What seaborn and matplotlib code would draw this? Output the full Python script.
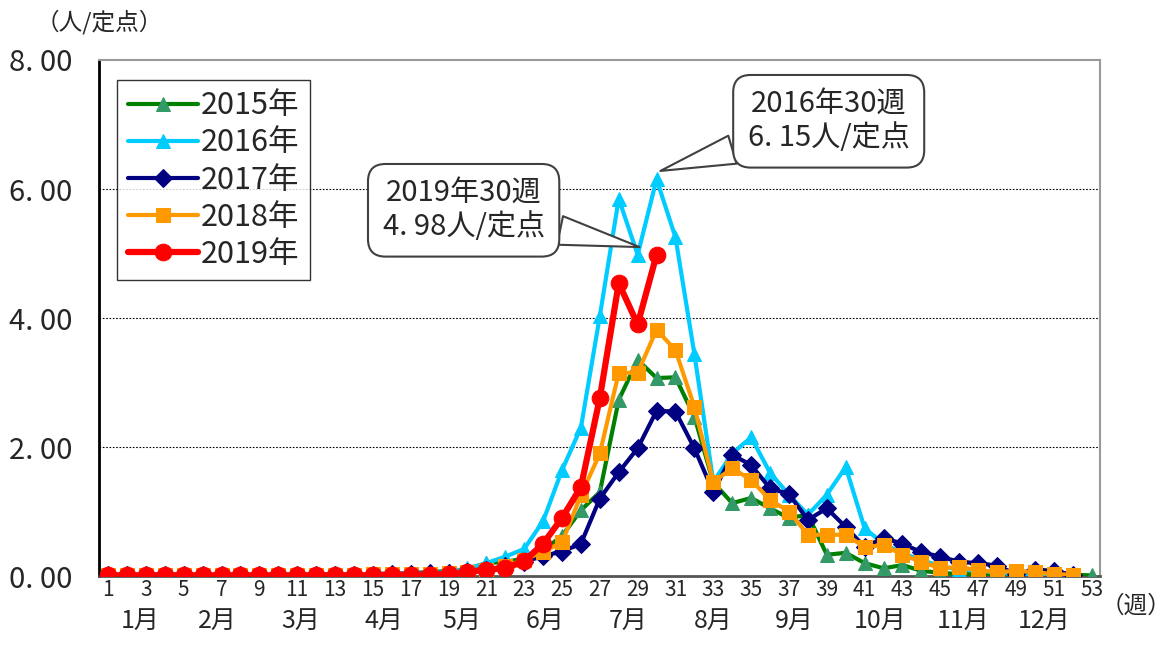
import numpy as np
import pandas as pd
import seaborn as sns
import matplotlib.pyplot as plt
from matplotlib.transforms import blended_transform_factory

# data
y2015 = [0.02, 0.02, 0.02, 0.03, 0.02, 0.02, 0.02, 0.02, 0.02, 0.02, 0.02, 0.03, 0.03, 0.03, 0.03, 0.04, 0.05, 0.06,
         0.08, 0.10, 0.20, 0.22, 0.27, 0.40, 0.62, 1.02, 1.30, 2.73, 3.35, 3.07, 3.08, 2.47, 1.45, 1.13, 1.21, 1.05,
         0.90, 0.95, 0.33, 0.36, 0.20, 0.12, 0.17, 0.08, 0.05, 0.03, 0.03, 0.04, 0.03, 0.02, 0.02, 0.02, 0.01]
y2016 = [0.01, 0.01, 0.02, 0.02, 0.02, 0.01, 0.02, 0.02, 0.01, 0.02, 0.02, 0.02, 0.03, 0.03, 0.03, 0.04, 0.05, 0.05,
         0.06, 0.12, 0.20, 0.30, 0.42, 0.85, 1.64, 2.30, 4.03, 5.85, 4.98, 6.15, 5.25, 3.44, 1.46, 1.90, 2.15, 1.60,
         1.26, 0.95, 1.26, 1.69, 0.74, 0.50, 0.35, 0.25, 0.15, 0.10, 0.08, 0.06, 0.02, 0.02, 0.02, 0.01]
y2017 = [0.01, 0.01, 0.01, 0.02, 0.01, 0.01, 0.02, 0.01, 0.01, 0.02, 0.01, 0.02, 0.02, 0.02, 0.02, 0.03, 0.03, 0.04,
         0.05, 0.07, 0.10, 0.15, 0.22, 0.31, 0.38, 0.50, 1.20, 1.61, 1.98, 2.56, 2.55, 1.98, 1.30, 1.88, 1.72, 1.36,
         1.27, 0.87, 1.05, 0.76, 0.45, 0.59, 0.50, 0.37, 0.30, 0.22, 0.20, 0.16, 0.03, 0.10, 0.08, 0.02]
y2018 = [0.02, 0.02, 0.01, 0.02, 0.02, 0.02, 0.01, 0.02, 0.02, 0.01, 0.02, 0.02, 0.02, 0.02, 0.03, 0.03, 0.03, 0.03,
         0.04, 0.06, 0.10, 0.15, 0.25, 0.38, 0.52, 1.25, 1.90, 3.15, 3.15, 3.82, 3.50, 2.62, 1.46, 1.67, 1.49, 1.18,
         1.00, 0.64, 0.64, 0.64, 0.45, 0.48, 0.33, 0.22, 0.12, 0.14, 0.09, 0.06, 0.08, 0.06, 0.03, 0.02]
y2019 = [0.01, 0.01, 0.01, 0.01, 0.01, 0.01, 0.01, 0.01, 0.01, 0.01, 0.01, 0.01, 0.01, 0.01, 0.01, 0.02, 0.02, 0.02,
         0.03, 0.06, 0.10, 0.12, 0.23, 0.50, 0.90, 1.38, 2.76, 4.54, 3.90, 4.98]

years = ['2015年', '2016年', '2017年', '2018年', '2019年']
series = [y2015, y2016, y2017, y2018, y2019]
line_colors = ['#008000', '#00CCFF', '#000080', '#FF9900', '#FF0000']
marker_colors = ['#339966', '#00CCFF', '#000080', '#FF9900', '#FF0000']
markers = ['^', '^', 'D', 's', 'o']

week_ticks = list(range(1, 54))
week_labels = [str(w) if w % 2 == 1 else '' for w in week_ticks]
y_ticks = [0, 2, 4, 6, 8]
y_labels = ['0. 00', '2. 00', '4. 00', '6. 00', '8. 00']
months = ['1月', '2月', '3月', '4月', '5月', '6月', '7月', '8月', '9月', '10月', '11月', '12月']
month_pos = [2.7, 6.8, 11.2, 15.6, 19.7, 24.1, 28.5, 33.0, 37.3, 41.8, 46.2, 50.5]

sns.set_style('white')
plt.rcParams['font.family'] = ['Noto Sans CJK JP', 'DejaVu Sans']

fig = plt.figure(figsize=(11.71, 6.5), dpi=100)
ax = fig.add_axes([0.0845, 0.1138, 0.8545, 0.7939])

for i in range(len(years)):
    df = pd.DataFrame({'week': np.arange(1, len(series[i]) + 1), 'val': series[i]})
    big = i == 4
    sns.lineplot(data=df, x='week', y='val', ax=ax, color=line_colors[i], marker=markers[i],
                 markersize=12 if big else (10.5 if markers[i] == '^' else 9.5),
                 markerfacecolor=marker_colors[i], markeredgecolor=marker_colors[i],
                 linewidth=4.5 if big else 3, label=years[i], zorder=3 + i)

ax.set_xlim(0.52, 53.42)
ax.set_ylim(0, 8)
ax.set_xticks(week_ticks)
ax.set_xticklabels(week_labels, fontsize=15)
ax.set_yticks(y_ticks)
ax.set_yticklabels(y_labels, fontsize=21)
ax.set_xlabel('')
ax.set_ylabel('')
ax.tick_params(axis='x', direction='in', length=6, width=1, color='black', pad=2)
ax.tick_params(axis='y', direction='in', length=8, width=1.5, color='black', pad=19)
for g in [2, 4, 6]:
    ax.axhline(g, color='black', linestyle=(0, (1.5, 1.5)), linewidth=0.8, zorder=1)

ax.spines['left'].set_color('black')
ax.spines['left'].set_linewidth(2)
ax.spines['bottom'].set_color('#555555')
ax.spines['bottom'].set_linewidth(2)
ax.spines['top'].set_color('#999999')
ax.spines['top'].set_linewidth(1.5)
ax.spines['right'].set_color('#999999')
ax.spines['right'].set_linewidth(1.5)

trans = blended_transform_factory(ax.transData, ax.transAxes)
for m, p in zip(months, month_pos):
    ax.text(p, -0.087, m, transform=trans, ha='center', va='center', fontsize=18)
ax.text(1.036, -0.058, '（週）', transform=ax.transAxes, ha='center', va='center', fontsize=17)
ax.text(0.0, 1.074, '（人/定点）', transform=ax.transAxes, ha='center', va='center', fontsize=17)

leg = ax.legend(loc='upper left', bbox_to_anchor=(0.018, 0.962), fontsize=22, frameon=True,
                fancybox=False, edgecolor='black', handlelength=2.3, handletextpad=0.1,
                labelspacing=0.2, borderpad=0.35, borderaxespad=0)
leg.get_frame().set_linewidth(1)

ax.annotate('2019年30週\n4. 98人/定点', xy=(29.1, 5.1), xytext=(19.8, 5.67), fontsize=21,
            ha='center', va='center', linespacing=1.15,
            bbox=dict(boxstyle='round,pad=0.5,rounding_size=0.6', fc='white', ec='#404040', lw=1.5),
            arrowprops=dict(arrowstyle='wedge,tail_width=1.0', fc='white', ec='#404040', lw=1.5,
                            shrinkA=0, shrinkB=0), zorder=10)
ax.annotate('2016年30週\n6. 15人/定点', xy=(30.2, 6.28), xytext=(39.1, 7.05), fontsize=21,
            ha='center', va='center', linespacing=1.15,
            bbox=dict(boxstyle='round,pad=0.5,rounding_size=0.6', fc='white', ec='#404040', lw=1.5),
            arrowprops=dict(arrowstyle='wedge,tail_width=1.0', fc='white', ec='#404040', lw=1.5,
                            shrinkA=0, shrinkB=0), zorder=10)

fig.savefig('out.png', dpi=100)
